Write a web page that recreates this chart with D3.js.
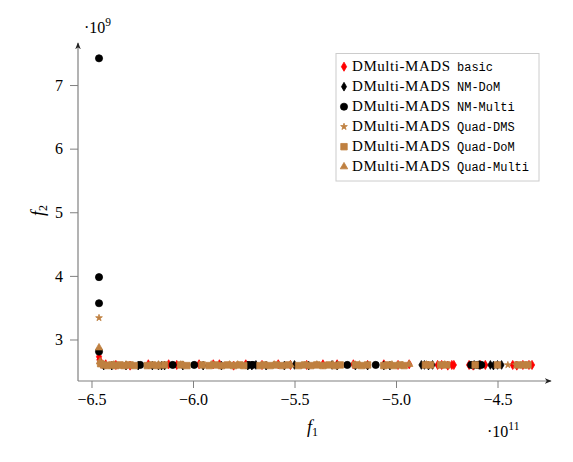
<!DOCTYPE html>
<html><head><meta charset="utf-8">
<script src="https://cdn.jsdelivr.net/npm/d3@7"></script>
<style>body{margin:0;background:#fff}</style>
</head><body>
<svg id="c" width="573" height="462"></svg>
<script>
// values: f1 in units of 1e11, f2 in units of 1e9
const xTicks = [-6.5, -6.0, -5.5, -5.0, -4.5];
const yTicks = [3, 4, 5, 6, 7];
const seriesNames = ["basic", "NM-DoM", "NM-Multi", "Quad-DMS", "Quad-DoM", "Quad-Multi"];

const basicPts = [[-6.463,2.73],[-6.461,2.68],[-6.458,2.64],[-6.452,2.62],[-6.43,2.61],[-6.38,2.60],[-6.31,2.59],[-6.22,2.61],[-6.12,2.61],[-6.08,2.60],[-5.97,2.61],[-5.90,2.61],[-5.87,2.61],[-5.80,2.59],[-5.74,2.61],[-5.66,2.60],[-5.58,2.61],[-5.52,2.60],[-5.44,2.60],[-5.36,2.61],[-5.29,2.61],[-5.21,2.61],[-5.14,2.60],[-5.06,2.61],[-4.99,2.60],[-4.935,2.61],[-4.795,2.60],[-4.775,2.60],[-4.745,2.59],[-4.725,2.60],[-4.715,2.60],[-4.640,2.60],[-4.620,2.59],[-4.585,2.60],[-4.560,2.60],[-4.425,2.60],[-4.405,2.59],[-4.375,2.60],[-4.345,2.60],[-4.330,2.60]];
const nmDomPts = [[-6.44,2.59],[-6.40,2.59],[-6.33,2.59],[-6.27,2.59],[-6.20,2.59],[-6.17,2.59],[-6.155,2.59],[-6.14,2.59],[-6.05,2.59],[-5.95,2.59],[-5.86,2.59],[-5.73,2.59],[-5.71,2.59],[-5.69,2.60],[-5.64,2.59],[-5.55,2.59],[-5.50,2.60],[-5.43,2.59],[-5.315,2.60],[-5.29,2.59],[-5.20,2.59],[-5.14,2.59],[-5.06,2.59],[-5.03,2.59],[-4.875,2.60],[-4.860,2.60],[-4.840,2.59],[-4.820,2.60],[-4.615,2.60],[-4.590,2.60],[-4.535,2.60],[-4.520,2.59],[-4.500,2.60],[-4.480,2.60]];
const nmMultiPts = [[-6.463,7.42],[-6.463,3.98],[-6.463,3.57],[-6.463,2.81],[-6.26,2.60],[-6.10,2.60],[-5.994,2.60],[-5.724,2.60],[-5.705,2.60],[-5.24,2.60],[-5.10,2.60],[-4.63,2.60],[-4.60,2.60],[-4.58,2.60]];
const quadDmsPts = [[-6.463,3.34],[-6.40,2.60],[-6.05,2.61],[-5.80,2.60],[-5.45,2.60],[-5.20,2.61],[-4.97,2.60],[-4.449,2.60],[-4.41,2.60]];
const quadDomPts = [[-6.455,2.62],[-6.44,2.60],[-6.42,2.59],[-6.40,2.60],[-6.38,2.59],[-6.36,2.60],[-6.34,2.59],[-6.31,2.60],[-6.29,2.59],[-6.225,2.59],[-6.20,2.60],[-6.175,2.59],[-6.14,2.60],[-6.06,2.60],[-6.03,2.59],[-5.955,2.60],[-5.92,2.59],[-5.89,2.60],[-5.86,2.59],[-5.83,2.60],[-5.80,2.59],[-5.77,2.60],[-5.75,2.59],[-5.67,2.59],[-5.65,2.60],[-5.62,2.59],[-5.59,2.60],[-5.56,2.59],[-5.53,2.60],[-5.48,2.59],[-5.45,2.60],[-5.42,2.59],[-5.39,2.60],[-5.36,2.59],[-5.33,2.60],[-5.30,2.59],[-5.275,2.60],[-5.20,2.60],[-5.17,2.59],[-5.14,2.60],[-5.06,2.59],[-5.04,2.60],[-5.01,2.59],[-4.98,2.60],[-4.96,2.59],[-4.855,2.60],[-4.83,2.60],[-4.78,2.60],[-4.75,2.60],[-4.61,2.60],[-4.50,2.60],[-4.40,2.60],[-4.37,2.60],[-4.35,2.60]];
const quadMultiPts = [[-6.463,2.87],[-6.458,2.65],[-6.45,2.61],[-6.39,2.60],[-6.33,2.60],[-6.17,2.60],[-6.06,2.60],[-5.91,2.60],[-5.82,2.60],[-5.78,2.60],[-5.60,2.60],[-5.52,2.60],[-5.39,2.60],[-5.31,2.60],[-5.18,2.60],[-5.02,2.60],[-4.935,2.61],[-4.85,2.60],[-4.76,2.60]];

const RED = "#ff0000", BLACK = "#000000", BROWN = "#bf8040";
const series = [
  {name: seriesNames[0], pts: basicPts, color: RED, type: d3.symbolDiamond, size: 24},
  {name: seriesNames[1], pts: nmDomPts, color: BLACK, type: d3.symbolDiamond, size: 22},
  {name: seriesNames[2], pts: nmMultiPts, color: BLACK, type: d3.symbolCircle, size: 40},
  {name: seriesNames[3], pts: quadDmsPts, color: BROWN, type: d3.symbolStar, size: 14},
  {name: seriesNames[4], pts: quadDomPts, color: BROWN, type: d3.symbolSquare, size: 42},
  {name: seriesNames[5], pts: quadMultiPts, color: BROWN, type: d3.symbolTriangle, size: 24}
];

const svg = d3.select("#c");
const x = d3.scaleLinear().domain([-6.5665, -4.2414]).range([78, 550]);
const y = d3.scaleLinear().domain([2.3475, 7.645]).range([381, 44]);
const serif = "'Liberation Serif', serif";
const mono = "'Liberation Mono', 'DejaVu Sans Mono', monospace";
const AX = "#808080";

const defs = svg.append("defs");
defs.append("marker").attr("id","arr").attr("viewBox","0 0 10 10").attr("refX",9).attr("refY",5)
  .attr("markerWidth",7).attr("markerHeight",7).attr("markerUnits","userSpaceOnUse").attr("orient","auto")
  .append("path").attr("d","M0,1 L10,5 L0,9 L3,5 Z").attr("fill","#222");

// x axis
const xAxis = d3.axisBottom(x).tickValues(xTicks).tickSizeInner(7).tickSizeOuter(0)
  .tickFormat(d => d3.format(".1f")(d).replace("-", "\u2212"));
const gx = svg.append("g").attr("transform","translate(0,381)").call(xAxis)
  .attr("font-family", serif).attr("font-size", 16);
gx.select(".domain").remove();
gx.selectAll(".tick line").attr("stroke", AX);
gx.selectAll(".tick text").attr("fill","#000").attr("y", 8).attr("dy", "1em");
svg.append("line").attr("x1",78).attr("x2",551).attr("y1",381).attr("y2",381)
  .attr("stroke",AX).attr("stroke-width",1.2).attr("marker-end","url(#arr)");

// y axis
const yAxis = d3.axisLeft(y).tickValues(yTicks).tickSizeInner(8).tickSizeOuter(0).tickFormat(d3.format("d"));
const gy = svg.append("g").attr("transform","translate(78,0)").call(yAxis)
  .attr("font-family", serif).attr("font-size", 16);
gy.select(".domain").remove();
gy.selectAll(".tick line").attr("stroke", AX);
gy.selectAll(".tick text").attr("fill","#000").attr("x", -15);
svg.append("line").attr("x1",78).attr("x2",78).attr("y1",381).attr("y2",43)
  .attr("stroke",AX).attr("stroke-width",1.2).attr("marker-end","url(#arr)");

// scale labels
const t9 = svg.append("text").attr("x",84).attr("y",33).attr("font-family",serif).attr("font-size",16);
t9.append("tspan").text("\u00b710");
t9.append("tspan").attr("dy",-7).attr("font-size",11.5).text("9");
const t11 = svg.append("text").attr("x",487).attr("y",437).attr("font-family",serif).attr("font-size",16);
t11.append("tspan").text("\u00b710");
t11.append("tspan").attr("dy",-7).attr("font-size",11.5).text("11");

// axis labels
const fl = svg.append("text").attr("x",307).attr("y",433).attr("font-family",serif).attr("font-size",18).attr("font-style","italic");
fl.append("tspan").text("f");
fl.append("tspan").attr("dy",3).attr("font-size",12).attr("font-style","normal").text("1");
const fl2 = svg.append("text").attr("transform","translate(44,216) rotate(-90)").attr("font-family",serif).attr("font-size",18).attr("font-style","italic");
fl2.append("tspan").text("f");
fl2.append("tspan").attr("dy",3).attr("font-size",12).attr("font-style","normal").text("2");

// marks
const plot = svg.append("g");
series.forEach(s => {
  plot.append("g").selectAll("path").data(s.pts).join("path")
    .attr("transform", d => `translate(${x(d[0])},${y(d[1])})`)
    .attr("d", d3.symbol().type(s.type).size(s.size))
    .attr("fill", s.color).attr("stroke", s.color).attr("stroke-width", 0.8);
});

// legend
const lg = svg.append("g");
lg.append("rect").attr("x",336).attr("y",53.5).attr("width",203).attr("height",127.5)
  .attr("fill","#fff").attr("stroke","#cccccc").attr("stroke-width",1);
series.forEach((s, i) => {
  const cy = 66.7 + i * 20;
  lg.append("path").attr("transform", `translate(344,${cy})`)
    .attr("d", d3.symbol().type(s.type).size(s.size))
    .attr("fill", s.color).attr("stroke", s.color).attr("stroke-width", 0.8);
  lg.append("text").attr("x",352).attr("y",cy+4.5).attr("font-family",serif).attr("font-size",15)
    .attr("textLength",98).attr("lengthAdjust","spacing").text("DMulti-MADS");
  lg.append("text").attr("x",457).attr("y",cy+4.5).attr("font-family",mono).attr("font-size",12)
    .text(s.name);
});
</script>
</body></html>
